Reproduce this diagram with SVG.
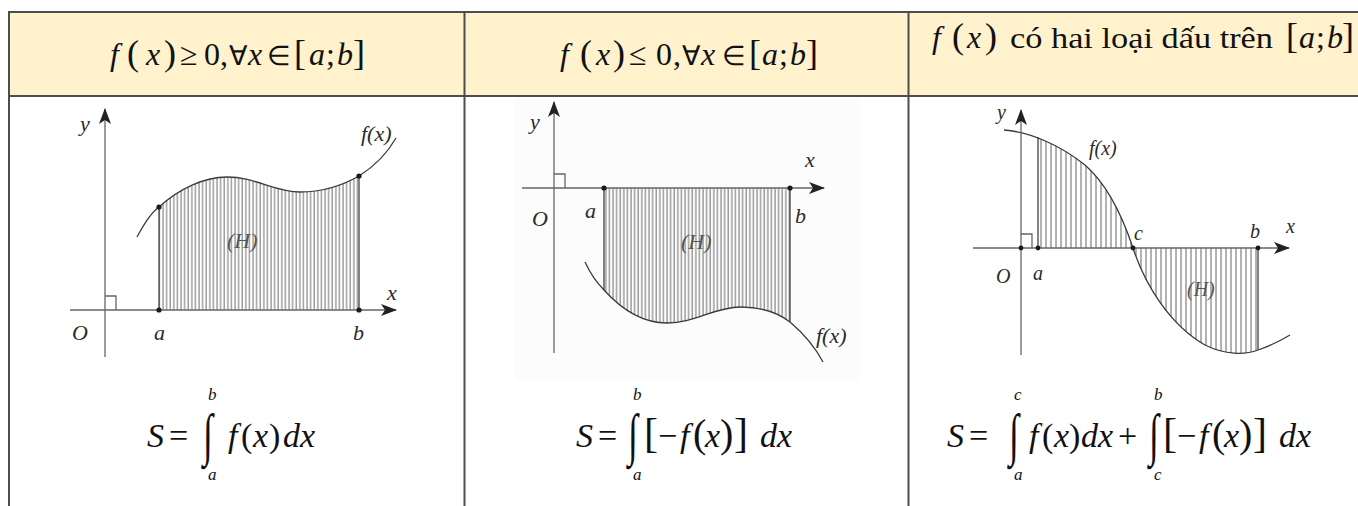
<svg xmlns="http://www.w3.org/2000/svg" width="1358" height="506" viewBox="0 0 1358 506">
<style>
.ln{stroke:#4d4d4d;stroke-width:2;fill:none}
.ax{stroke:#666;stroke-width:1.3;fill:none}
.cv{stroke:#3a3a3a;stroke-width:1.3;fill:none}
.edge{stroke:#333;stroke-width:1.2}
.dot{fill:#1a1a1a}
</style>
<defs>
<marker id="arr" viewBox="0 0 16 12" refX="15" refY="6" markerWidth="16" markerHeight="12" markerUnits="userSpaceOnUse" orient="auto">
<path d="M0,0 L16,6 L0,12 L4,6 Z" fill="#222"/>
</marker>
<pattern id="h1" width="3.6" height="10" patternUnits="userSpaceOnUse">
<line x1="1" y1="0" x2="1" y2="10" stroke="#555" stroke-width="0.9"/>
</pattern>
<pattern id="h3" width="5" height="10" patternUnits="userSpaceOnUse">
<line x1="1" y1="0" x2="1" y2="10" stroke="#555" stroke-width="0.9"/>
</pattern>
<clipPath id="c3a"><rect x="1038" y="100" width="95" height="150"/></clipPath>
</defs>

<g id="table">
<rect x="9" y="12" width="1349" height="84" fill="#FFF2CC"/>
<line class="ln" x1="8" y1="12" x2="1358" y2="12"/>
<line class="ln" x1="8" y1="96" x2="1358" y2="96"/>
<line class="ln" x1="9" y1="11" x2="9" y2="506"/>
<line class="ln" x1="464.5" y1="11" x2="464.5" y2="506"/>
<line class="ln" x1="908.5" y1="11" x2="908.5" y2="506"/>
</g>

<g id="header1">
<text font-family="Liberation Serif" font-size="32" fill="#111" y="65"><tspan font-style="italic" x="110">f</tspan><tspan font-size="36" x="127">(</tspan><tspan font-style="italic" x="146">x</tspan><tspan font-size="36" x="164">)</tspan><tspan x="180">≥</tspan><tspan x="204">0</tspan><tspan x="220">,</tspan><tspan font-size="27" x="229">∀</tspan><tspan font-style="italic" x="248">x</tspan><tspan font-size="27" x="267">∈</tspan><tspan font-size="36" x="294">[</tspan><tspan font-style="italic" x="309">a</tspan><tspan x="326">;</tspan><tspan font-style="italic" x="337">b</tspan><tspan font-size="36" x="353">]</tspan></text>
</g>
<g id="header2">
<text font-family="Liberation Serif" font-size="32" fill="#111" y="65"><tspan font-style="italic" x="560">f</tspan><tspan font-size="36" x="580">(</tspan><tspan font-style="italic" x="596">x</tspan><tspan font-size="36" x="613">)</tspan><tspan x="629">≤</tspan><tspan x="656">0</tspan><tspan x="673">,</tspan><tspan font-size="27" x="682">∀</tspan><tspan font-style="italic" x="701">x</tspan><tspan font-size="27" x="722">∈</tspan><tspan font-size="36" x="749">[</tspan><tspan font-style="italic" x="762">a</tspan><tspan x="779">;</tspan><tspan font-style="italic" x="790">b</tspan><tspan font-size="36" x="806">]</tspan></text>
</g>
<g id="header3">
<text font-family="Liberation Serif" font-size="32" fill="#111" y="48"><tspan font-style="italic" x="932">f</tspan><tspan font-size="36" x="952">(</tspan><tspan font-style="italic" x="967">x</tspan><tspan font-size="36" x="985">)</tspan></text>
<text font-family="Liberation Serif" font-size="29" fill="#111" x="1010" y="48" textLength="263" lengthAdjust="spacingAndGlyphs">có hai loại dấu trên</text>
<text font-family="Liberation Serif" font-size="32" fill="#111" y="48"><tspan font-size="36" x="1286">[</tspan><tspan font-style="italic" x="1299">a</tspan><tspan x="1316">;</tspan><tspan font-style="italic" x="1327">b</tspan><tspan font-size="36" x="1342">]</tspan></text>
</g>

<g id="graph1">
<path d="M159,310 L159,207 C180,188 205,177 227,177 C255,177 275,192 300,192 C325,192 345,184 359,176 L359,310 Z" fill="url(#h1)"/>
<line class="edge" x1="159" y1="207" x2="159" y2="310"/>
<line class="edge" x1="359" y1="176" x2="359" y2="310"/>
<path class="cv" d="M137,237 C145,222 152,212 159,207 C180,188 205,177 227,177 C255,177 275,192 300,192 C325,192 345,184 359,176 C375,166 388,152 396,138"/>
<line class="ax" x1="70" y1="310" x2="396" y2="310" marker-end="url(#arr)"/>
<line class="ax" x1="105" y1="357" x2="105" y2="109" marker-end="url(#arr)"/>
<path class="ax" d="M105,296 L116,296 L116,310" stroke-width="1"/>
<circle class="dot" cx="159" cy="310" r="2.6"/>
<circle class="dot" cx="359" cy="310" r="2.6"/>
<circle class="dot" cx="159" cy="207" r="2.6"/>
<circle class="dot" cx="359" cy="176" r="2.6"/>
<g font-family="Liberation Serif" font-style="italic" font-size="22" fill="#2a2a2a">
<text x="80" y="131">y</text>
<text x="387" y="300">x</text>
<text x="72" y="340">O</text>
<text x="154" y="340">a</text>
<text x="353" y="340">b</text>
<text x="361" y="141">f(x)</text>
<text x="227" y="248" fill="#555">(H)</text>
</g>
</g>

<g id="graph2">
<rect x="515" y="97" width="345" height="283" fill="#fcfcfc"/>
<path d="M604,188 L604,290 C622,310 642,323 667,323 C695,323 715,307 740,307 C760,307 777,312 790,322 L790,188 Z" fill="url(#h1)"/>
<line class="edge" x1="604" y1="188" x2="604" y2="290"/>
<line class="edge" x1="790" y1="188" x2="790" y2="322"/>
<path class="cv" d="M585,262 C591,275 597,283 604,290 C622,310 642,323 667,323 C695,323 715,307 740,307 C760,307 777,312 790,322 C803,333 815,347 823,362"/>
<line class="ax" x1="522" y1="188" x2="824" y2="188" marker-end="url(#arr)"/>
<line class="ax" x1="554" y1="353" x2="554" y2="102" marker-end="url(#arr)"/>
<path class="ax" d="M554,174 L565,174 L565,188" stroke-width="1"/>
<circle class="dot" cx="604" cy="188" r="2.6"/>
<circle class="dot" cx="790" cy="188" r="2.6"/>
<g font-family="Liberation Serif" font-style="italic" font-size="22" fill="#2a2a2a">
<text x="530" y="129">y</text>
<text x="805" y="167">x</text>
<text x="532" y="226">O</text>
<text x="585" y="218">a</text>
<text x="795" y="223">b</text>
<text x="681" y="249" fill="#555">(H)</text>
<text x="816" y="343">f(x)</text>
</g>
</g>

<g id="graph3">
<path d="M1004,248 L1004,130 C1030,132 1060,145 1085,165 C1108,185 1122,215 1133,248 Z" fill="url(#h3)" clip-path="url(#c3a)"/>
<path d="M1133,248 C1145,285 1170,325 1205,345 C1225,355 1245,355 1258,350 L1258,248 Z" fill="url(#h3)"/>
<line class="edge" x1="1038" y1="137" x2="1038" y2="248"/>
<line class="edge" x1="1258" y1="248" x2="1258" y2="350"/>
<path class="cv" d="M1004,130 C1030,132 1060,145 1085,165 C1108,185 1122,215 1133,248 C1145,285 1170,325 1205,345 C1225,355 1245,355 1258,350 C1270,346 1280,341 1290,335"/>
<line class="ax" x1="973" y1="248" x2="1289" y2="248" marker-end="url(#arr)"/>
<line class="ax" x1="1021" y1="355" x2="1021" y2="110" marker-end="url(#arr)"/>
<path class="ax" d="M1021,234 L1032,234 L1032,248" stroke-width="1"/>
<circle class="dot" cx="1021" cy="248" r="2.4"/>
<circle class="dot" cx="1038" cy="248" r="2.4"/>
<circle class="dot" cx="1133" cy="248" r="2.4"/>
<circle class="dot" cx="1258" cy="248" r="2.4"/>
<g font-family="Liberation Serif" font-style="italic" font-size="20" fill="#2a2a2a">
<text x="997" y="119">y</text>
<text x="1286" y="233">x</text>
<text x="996" y="283">O</text>
<text x="1033" y="280">a</text>
<text x="1134" y="240">c</text>
<text x="1250" y="238">b</text>
<text x="1089" y="155">f(x)</text>
<text x="1187" y="296" fill="#555">(H)</text>
</g>
</g>

<g id="formula1" fill="#111" font-family="Liberation Serif">
<text font-size="34" y="447"><tspan font-style="italic" x="147">S</tspan><tspan x="169">=</tspan></text>
<text font-size="36" transform="translate(203,454) scale(1,1.6)">∫</text>
<text font-size="17" font-style="italic" x="208" y="400">b</text>
<text font-size="17" font-style="italic" x="208" y="480">a</text>
<text font-size="34" y="447"><tspan font-style="italic" x="228">f</tspan><tspan x="241">(</tspan><tspan font-style="italic" x="253">x</tspan><tspan x="269">)</tspan><tspan font-style="italic" x="283">dx</tspan></text>
</g>

<g id="formula2" fill="#111" font-family="Liberation Serif">
<text font-size="34" y="447"><tspan font-style="italic" x="576">S</tspan><tspan x="598">=</tspan></text>
<text font-size="36" transform="translate(628,454) scale(1,1.6)">∫</text>
<text font-size="17" font-style="italic" x="633" y="400">b</text>
<text font-size="17" font-style="italic" x="633" y="480">a</text>
<text font-size="34" y="447"><tspan x="644" font-size="42">[</tspan><tspan x="658">−</tspan><tspan font-style="italic" x="680">f</tspan><tspan x="693" font-size="40">(</tspan><tspan font-style="italic" x="705">x</tspan><tspan x="720" font-size="40">)</tspan><tspan x="734" font-size="42">]</tspan><tspan font-style="italic" x="760">dx</tspan></text>
</g>

<g id="formula3" fill="#111" font-family="Liberation Serif">
<text font-size="34" y="447"><tspan font-style="italic" x="947">S</tspan><tspan x="969">=</tspan></text>
<text font-size="36" transform="translate(1009,454) scale(1,1.6)">∫</text>
<text font-size="17" font-style="italic" x="1014" y="400">c</text>
<text font-size="17" font-style="italic" x="1014" y="480">a</text>
<text font-size="34" y="447"><tspan font-style="italic" x="1029">f</tspan><tspan x="1042">(</tspan><tspan font-style="italic" x="1054">x</tspan><tspan x="1069">)</tspan><tspan font-style="italic" x="1081">dx</tspan><tspan x="1118">+</tspan></text>
<text font-size="36" transform="translate(1149,454) scale(1,1.6)">∫</text>
<text font-size="17" font-style="italic" x="1154" y="400">b</text>
<text font-size="17" font-style="italic" x="1154" y="480">c</text>
<text font-size="34" y="447"><tspan x="1163" font-size="42">[</tspan><tspan x="1177">−</tspan><tspan font-style="italic" x="1199">f</tspan><tspan x="1212" font-size="40">(</tspan><tspan font-style="italic" x="1224">x</tspan><tspan x="1239" font-size="40">)</tspan><tspan x="1253" font-size="42">]</tspan><tspan font-style="italic" x="1279">dx</tspan></text>
</g>
</svg>
